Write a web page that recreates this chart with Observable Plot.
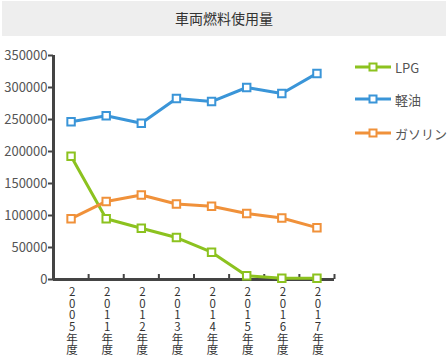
<!DOCTYPE html>
<html><head><meta charset="utf-8">
<script src="https://cdn.jsdelivr.net/npm/d3@7"></script>
<script src="https://cdn.jsdelivr.net/npm/@observablehq/plot@0.6"></script>
<style>
body{margin:0;background:#fff;font-family:"Noto Sans CJK JP","Noto Sans",sans-serif;}
#wrap{position:relative;width:448px;height:357px;overflow:hidden;}
#title{position:absolute;left:2px;top:1px;width:444px;height:35px;background:#eeeeee;text-align:center;line-height:35px;font-size:14px;color:#333;}
#chart{position:absolute;left:0;top:37px;}
#legend{position:absolute;left:355px;top:0;}
.li{position:absolute;left:0;white-space:nowrap;font-size:13px;color:#555;display:flex;align-items:center;}
.li svg{margin-right:4px;}
</style></head>
<body>
<div id="wrap">
<div id="title">車両燃料使用量</div>
<div id="chart"></div>
<div id="legend"></div>
</div>
<script>
const years = ["2005年度","2011年度","2012年度","2013年度","2014年度","2015年度","2016年度","2017年度"];
const seriesNames = ["LPG","軽油","ガソリン"];
const colors = ["#8cc21f","#3a95d8","#f0913a"];
const lpg = [192700, 95000, 80000, 65600, 42700, 5800, 2000, 2000];
const diesel = [246500, 256000, 244000, 282800, 278000, 300000, 290600, 322000];
const gasoline = [95000, 122000, 132000, 118000, 114500, 103000, 96000, 81000];
const yTicks = [0, 50000, 100000, 150000, 200000, 250000, 300000, 350000];

const valuesBySeries = [lpg, diesel, gasoline];
const data = [];
seriesNames.forEach((s, k) => valuesBySeries[k].forEach((v, i) => data.push({series: s, i: i + 0.5, value: v})));
const bounds = d3.range(years.length + 1);
const labels = years.map((y, i) => ({i: i + 0.5, text: Array.from(y).join("\n")}));

const plot = Plot.plot({
  width: 448, height: 320,
  marginTop: 18, marginBottom: 78, marginLeft: 53, marginRight: 114,
  style: {fontFamily: '"Noto Sans CJK JP","Noto Sans",sans-serif', background: "transparent"},
  x: {domain: [0, years.length], axis: null},
  y: {domain: [0, 350000], axis: null},
  color: {domain: seriesNames, range: colors},
  marks: [
    // y axis ticks and labels
    Plot.axisY({ticks: yTicks, tickSize: 5, tickFormat: () => "", label: null, stroke: "#444", strokeWidth: 2, strokeOpacity: 1}),
    Plot.text(yTicks, {x: 0, y: d => d, text: d => String(d), textAnchor: "end", dx: -6, fontSize: 13, fill: "#555"}),
    // x axis ticks (pointing up, at band boundaries)
    Plot.axisX({ticks: bounds, tickSize: 5, dy: -5, tickFormat: () => "", label: null, stroke: "#444", strokeWidth: 2, strokeOpacity: 1}),
    Plot.text(labels, {x: "i", y: 0, text: "text", lineAnchor: "top", dy: 8, dx: 1, fontSize: 11.5, lineHeight: 1.02, fill: "#333"}),
    // axis lines
    Plot.ruleX([0], {y1: 0, y2: 350000, stroke: "#444", strokeWidth: 3}),
    Plot.ruleY([0], {x1: 0, x2: years.length, stroke: "#444", strokeWidth: 3}),
    // series
    Plot.line(data, {x: "i", y: "value", z: "series", stroke: "series", strokeWidth: 3}),
    Plot.dot(data, {x: "i", y: "value", stroke: "series", fill: "white", symbol: "square", r: 4.2, strokeWidth: 2})
  ]
});
document.getElementById("chart").appendChild(plot);

// legend
const legend = document.getElementById("legend");
const legendTops = [57, 89, 123];
seriesNames.forEach((s, k) => {
  const div = document.createElement("div");
  div.className = "li";
  div.style.top = legendTops[k] + "px";
  div.innerHTML = `<svg width="36" height="20"><line x1="0" x2="36" y1="10" y2="10" stroke="${colors[k]}" stroke-width="3"/><rect x="14.5" y="6.5" width="7" height="7" fill="white" stroke="${colors[k]}" stroke-width="2"/></svg><span>${s}</span>`;
  legend.appendChild(div);
});
</script>
</body></html>
